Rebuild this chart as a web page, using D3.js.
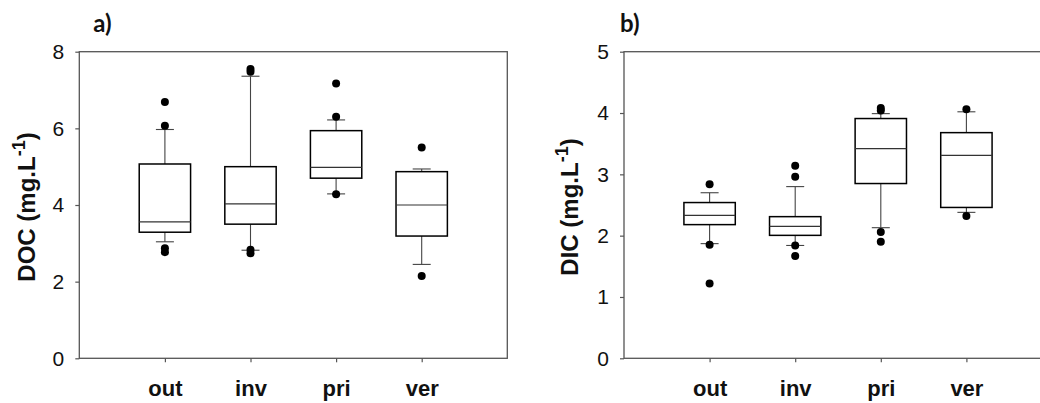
<!DOCTYPE html>
<html>
<head>
<meta charset="utf-8">
<script src="https://cdn.jsdelivr.net/npm/d3@7"></script>
<style>
  body { margin: 0; background: #fff; }
  svg { display: block; }
</style>
</head>
<body>
<div id="chart"></div>
<script>
// categories shared by both panels
var categories = ["out", "inv", "pri", "ver"];

// panel a) DOC
var docQ1 = [3.29, 3.50, 4.70, 3.19];
var docMedian = [3.56, 4.03, 4.98, 4.00];
var docQ3 = [5.07, 5.00, 5.94, 4.87];
var docWhiskerLow = [3.04, 2.82, 4.29, 2.45];
var docWhiskerHigh = [5.97, 7.36, 6.22, 4.94];
var docOutliers = [[6.69, 6.07, 2.87, 2.77], [7.55, 7.48, 2.83, 2.74], [7.17, 6.30, 4.28], [5.50, 2.15]];
var docTicks = [0, 2, 4, 6, 8];

// panel b) DIC
var dicQ1 = [2.18, 2.005, 2.85, 2.46];
var dicMedian = [2.33, 2.15, 3.42, 3.31];
var dicQ3 = [2.54, 2.31, 3.91, 3.68];
var dicWhiskerLow = [1.87, 1.84, 2.13, 2.38];
var dicWhiskerHigh = [2.70, 2.80, 3.99, 4.02];
var dicOutliers = [[2.84, 1.85, 1.22], [3.14, 2.96, 1.84, 1.67], [4.08, 4.04, 2.06, 1.90], [4.06, 2.32]];
var dicTicks = [0, 1, 2, 3, 4, 5];

var svg = d3.select("#chart").append("svg")
    .attr("width", 1040)
    .attr("height", 403);

function boxPanel(conf) {
    var w = 428, h = 306.6;
    var g = svg.append("g")
        .attr("transform", "translate(" + conf.left + "," + conf.top + ")");

    var x = d3.scaleLinear().domain([0, categories.length + 1]).range([0, w]);
    var y = d3.scaleLinear().domain([0, d3.max(conf.ticks)]).range([h, 0]);

    var rows = categories.map(function (c, i) {
        return {
            key: c, pos: i + 1,
            q1: conf.q1[i], med: conf.median[i], q3: conf.q3[i],
            lo: conf.low[i], hi: conf.high[i], out: conf.outliers[i]
        };
    });

    // frame
    g.append("rect")
        .attr("width", w).attr("height", h)
        .attr("fill", "none")
        .attr("stroke", "#555").attr("stroke-width", 1.3);

    // axes
    var yAxis = g.append("g")
        .call(d3.axisLeft(y).tickValues(conf.ticks).tickSize(4).tickPadding(11).tickFormat(d3.format("d")));
    yAxis.select(".domain").remove();
    yAxis.selectAll(".tick line").attr("stroke", "#555").attr("stroke-width", 1.2);
    yAxis.selectAll(".tick text")
        .attr("fill", "#111")
        .style("font-family", "Liberation Sans, Arial, sans-serif")
        .style("font-size", "21px");

    var xAxis = g.append("g")
        .attr("transform", "translate(0," + h + ")")
        .call(d3.axisBottom(x).tickValues(rows.map(function (d) { return d.pos; }))
            .tickSize(4).tickPadding(18)
            .tickFormat(function (d) { return categories[d - 1]; }));
    xAxis.select(".domain").remove();
    xAxis.selectAll(".tick line").attr("stroke", "#555").attr("stroke-width", 1.2);
    xAxis.selectAll(".tick text")
        .attr("fill", "#111")
        .style("font-family", "Liberation Sans, Arial, sans-serif")
        .style("font-weight", "bold")
        .style("font-size", "22px");

    var boxW = (x(1) - x(0)) * 0.6;
    var capW = 18;

    var box = g.selectAll(".box")
        .data(rows)
        .enter().append("g")
        .attr("class", "box");

    // whiskers
    box.append("line")
        .attr("x1", function (d) { return x(d.pos); })
        .attr("x2", function (d) { return x(d.pos); })
        .attr("y1", function (d) { return y(d.q3); })
        .attr("y2", function (d) { return y(d.hi); })
        .attr("stroke", "#444").attr("stroke-width", 1.1);
    box.append("line")
        .attr("x1", function (d) { return x(d.pos); })
        .attr("x2", function (d) { return x(d.pos); })
        .attr("y1", function (d) { return y(d.q1); })
        .attr("y2", function (d) { return y(d.lo); })
        .attr("stroke", "#444").attr("stroke-width", 1.1);
    ["hi", "lo"].forEach(function (k) {
        box.append("line")
            .attr("x1", function (d) { return x(d.pos) - capW / 2; })
            .attr("x2", function (d) { return x(d.pos) + capW / 2; })
            .attr("y1", function (d) { return y(d[k]); })
            .attr("y2", function (d) { return y(d[k]); })
            .attr("stroke", "#444").attr("stroke-width", 1.1);
    });

    // boxes
    box.append("rect")
        .attr("x", function (d) { return x(d.pos) - boxW / 2; })
        .attr("y", function (d) { return y(d.q3); })
        .attr("width", boxW)
        .attr("height", function (d) { return y(d.q1) - y(d.q3); })
        .attr("fill", "#fff")
        .attr("stroke", "#000").attr("stroke-width", 1.5);

    box.append("line")
        .attr("x1", function (d) { return x(d.pos) - boxW / 2; })
        .attr("x2", function (d) { return x(d.pos) + boxW / 2; })
        .attr("y1", function (d) { return y(d.med); })
        .attr("y2", function (d) { return y(d.med); })
        .attr("stroke", "#333").attr("stroke-width", 1.2);

    // outliers
    box.selectAll(".dot")
        .data(function (d) { return d.out.map(function (v) { return { pos: d.pos, v: v }; }); })
        .enter().append("circle")
        .attr("cx", function (d) { return x(d.pos); })
        .attr("cy", function (d) { return y(d.v); })
        .attr("r", 4)
        .attr("fill", "#000");

    // axis title
    var title = g.append("text")
        .attr("transform", "translate(" + conf.titleX + "," + (h / 2 + 2) + ") rotate(-90)")
        .attr("text-anchor", "middle")
        .style("font-family", "Liberation Sans, Arial, sans-serif")
        .style("font-weight", "bold")
        .style("font-size", "24px")
        .attr("fill", "#111");
    title.append("tspan").text(conf.title + " (mg.L");
    title.append("tspan").attr("dy", -10).style("font-size", "18px").text("-1");
    title.append("tspan").attr("dy", 10).text(")");

    // panel letter
    g.append("text")
        .attr("x", conf.letterX)
        .attr("y", -20)
        .style("font-family", "Lato, sans-serif")
        .style("font-weight", "bold")
        .style("font-size", "24px")
        .attr("fill", "#111")
        .text(conf.letter);
}

boxPanel({
    left: 79.3, top: 51.7, ticks: docTicks,
    q1: docQ1, median: docMedian, q3: docQ3,
    low: docWhiskerLow, high: docWhiskerHigh, outliers: docOutliers,
    title: "DOC", titleX: -44, letter: "a)", letterX: 14
});

boxPanel({
    left: 624, top: 51.7, ticks: dicTicks,
    q1: dicQ1, median: dicMedian, q3: dicQ3,
    low: dicWhiskerLow, high: dicWhiskerHigh, outliers: dicOutliers,
    title: "DIC", titleX: -46, letter: "b)", letterX: -4
});
</script>
</body>
</html>
